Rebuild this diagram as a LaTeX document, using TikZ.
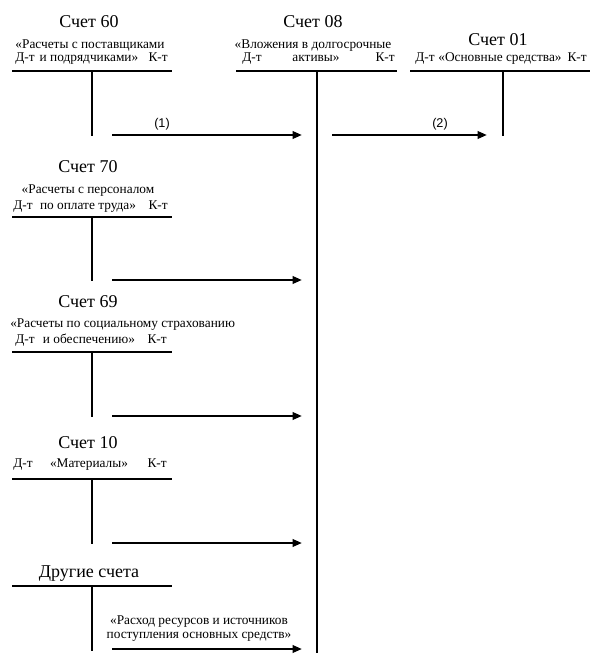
\documentclass[tikz,border=0pt]{standalone}
\usepackage{fontspec}
\setmainfont{Liberation Serif}
\newfontfamily\labelfont{Liberation Sans}
\usetikzlibrary{arrows.meta}
\tikzset{
  title/.style={anchor=base,inner sep=0pt,font=\fontsize{13.5}{15}\selectfont},
  txt/.style={anchor=base,inner sep=0pt,font=\fontsize{10}{11}\selectfont},
  num/.style={anchor=base,inner sep=0pt,font=\labelfont\fontsize{9.5}{10}\selectfont},
  tline/.style={line width=2.2pt},
  arr/.style={line width=2.2pt,-{Triangle[length=7pt,width=5.5pt]}}
}

\begin{document}
\begin{tikzpicture}[x=0.75pt,y=-0.75pt]
 \useasboundingbox (0,0) rectangle (596,664);
 % account 60
 \node[title] (t60) at (89,27) {Счет 60};
 \node[txt] (n60a) at (90,48) {«Расчеты с поставщиками};
 \node[txt,anchor=base west] (d60) at (15,61) {Д-т};
 \node[txt] (n60b) at (89,61) {и подрядчиками»};
 \node[txt,anchor=base east] (k60) at (168,61) {К-т};
 \coordinate (a60l) at (12,71); \coordinate (a60r) at (172,71);
 \coordinate (a60t) at (92,71); \coordinate (a60b) at (92,136);
 \draw[tline] (a60l)--(a60r); \draw[tline] (a60t)--(a60b);
 % account 08
 \node[title] (t08) at (313,27) {Счет 08};
 \node[txt] (n08a) at (313,48) {«Вложения в долгосрочные};
 \node[txt,anchor=base west] (d08) at (242,61) {Д-т};
 \node[txt] (n08b) at (316,61) {активы»};
 \node[txt,anchor=base east] (k08) at (395,61) {К-т};
 \coordinate (a08l) at (236,71); \coordinate (a08r) at (397,71);
 \coordinate (a08t) at (317,71); \coordinate (a08b) at (317,653);
 \draw[tline] (a08l)--(a08r); \draw[tline] (a08t)--(a08b);
 % account 01
 \node[title] (t01) at (498,45) {Счет 01};
 \node[txt,anchor=base west] (d01) at (415,61) {Д-т};
 \node[txt] (n01) at (500,61) {«Основные средства»};
 \node[txt,anchor=base east] (k01) at (587,61) {К-т};
 \coordinate (a01l) at (410,71); \coordinate (a01r) at (590,71);
 \coordinate (a01t) at (503,71); \coordinate (a01b) at (503,136);
 \draw[tline] (a01l)--(a01r); \draw[tline] (a01t)--(a01b);
 % account 70
 \node[title] (t70) at (88,172) {Счет 70};
 \node[txt] (n70a) at (88,193) {«Расчеты с персоналом};
 \node[txt,anchor=base west] (d70) at (13,209) {Д-т};
 \node[txt] (n70b) at (88,209) {по оплате труда»};
 \node[txt,anchor=base east] (k70) at (168,209) {К-т};
 \coordinate (a70l) at (12,217); \coordinate (a70r) at (172,217);
 \coordinate (a70t) at (92,217); \coordinate (a70b) at (92,281);
 \draw[tline] (a70l)--(a70r); \draw[tline] (a70t)--(a70b);
 % account 69
 \node[title] (t69) at (88,307) {Счет 69};
 \node[txt,anchor=base west] (n69a) at (10,327) {«Расчеты по социальному страхованию};
 \node[txt,anchor=base west] (d69) at (15,343) {Д-т};
 \node[txt] (n69b) at (89,343) {и обеспечению»};
 \node[txt,anchor=base east] (k69) at (167,343) {К-т};
 \coordinate (a69l) at (12,352); \coordinate (a69r) at (172,352);
 \coordinate (a69t) at (92,352); \coordinate (a69b) at (92,417);
 \draw[tline] (a69l)--(a69r); \draw[tline] (a69t)--(a69b);
 % account 10
 \node[title] (t10) at (88,448) {Счет 10};
 \node[txt,anchor=base west] (d10) at (13,467) {Д-т};
 \node[txt] (n10) at (89,467) {«Материалы»};
 \node[txt,anchor=base east] (k10) at (167,467) {К-т};
 \coordinate (a10l) at (12,479); \coordinate (a10r) at (172,479);
 \coordinate (a10t) at (92,479); \coordinate (a10b) at (92,544);
 \draw[tline] (a10l)--(a10r); \draw[tline] (a10t)--(a10b);
 % other accounts
 \node[title] (tot) at (89,577) {Другие счета};
 \coordinate (aotl) at (12,586); \coordinate (aotr) at (172,586);
 \coordinate (aott) at (92,586); \coordinate (aotb) at (92,651);
 \draw[tline] (aotl)--(aotr); \draw[tline] (aott)--(aotb);
 \node[txt] (nota) at (199,624) {«Расход ресурсов и источников};
 \node[txt] (notb) at (199,638) {поступления основных средств»};
 % arrows
 \coordinate (s1) at (112,135); \coordinate (e1) at (302,135);
 \coordinate (s2) at (332,135); \coordinate (e2) at (487,135);
 \coordinate (s3) at (112,280); \coordinate (e3) at (302,280);
 \coordinate (s4) at (112,416); \coordinate (e4) at (302,416);
 \coordinate (s5) at (112,543); \coordinate (e5) at (302,543);
 \coordinate (s6) at (112,649); \coordinate (e6) at (302,649);
 \foreach \i in {1,...,6} \draw[arr] (s\i)--(e\i);
 \node[num] (l1) at (162,127) {(1)};
 \node[num] (l2) at (440,127) {(2)};
\end{tikzpicture}
\end{document}
